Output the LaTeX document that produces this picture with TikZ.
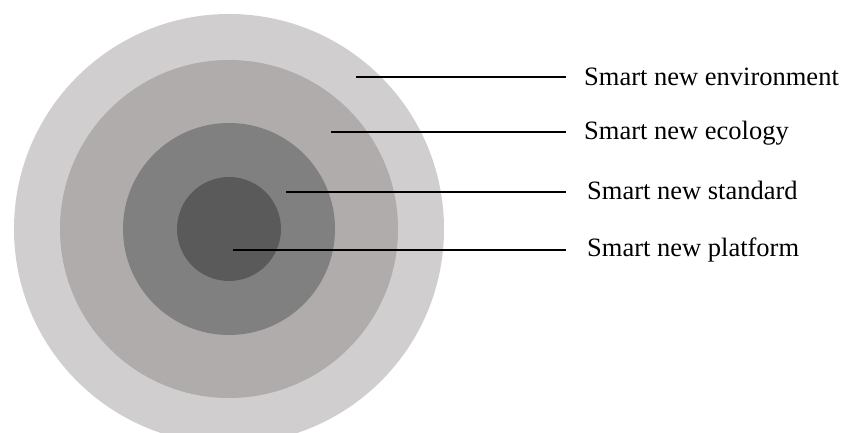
\documentclass[tikz,border=0pt]{standalone}
\usepackage{fontspec}
\setmainfont{Liberation Serif}
\definecolor{ringA}{HTML}{D0CECF}
\definecolor{ringB}{HTML}{AFACAB}
\definecolor{ringC}{HTML}{808080}
\definecolor{ringD}{HTML}{5A5A5A}
\begin{document}
\begin{tikzpicture}[x=1pt,y=1pt,
  disc/.style={circle, draw=none, inner sep=0pt},
  lbl/.style={anchor=base west, inner sep=0pt, font=\fontsize{26.5}{30}\selectfont},
  leader/.style={draw=black, line width=1.3pt}]
\useasboundingbox (0,0) rectangle (842,433);
\begin{scope}
\clip (0,0) rectangle (842,433);
\node[disc, fill=ringA, minimum size=430pt] (c1) at (229,204) {};
\node[disc, fill=ringB, minimum size=338pt] (c2) at (229,204) {};
\node[disc, fill=ringC, minimum size=212pt] (c3) at (229,204) {};
\node[disc, fill=ringD, minimum size=104pt] (c4) at (229,204) {};
\end{scope}
\node[lbl] (t1) at (584,347) {Smart new environment};
\node[lbl] (t2) at (584,293) {Smart new ecology};
\node[lbl] (t3) at (587,233) {Smart new standard};
\node[lbl] (t4) at (587,176.5) {Smart new platform};
\coordinate (s1) at (356,356);
\coordinate (s2) at (331,301);
\coordinate (s3) at (286,241);
\coordinate (s4) at (233,183);
\coordinate (e1) at (566,356);
\coordinate (e2) at (566,301);
\coordinate (e3) at (566,241);
\coordinate (e4) at (566,183);
\draw[leader] (s1) -- (e1);
\draw[leader] (s2) -- (e2);
\draw[leader] (s3) -- (e3);
\draw[leader] (s4) -- (e4);
\end{tikzpicture}
\end{document}
